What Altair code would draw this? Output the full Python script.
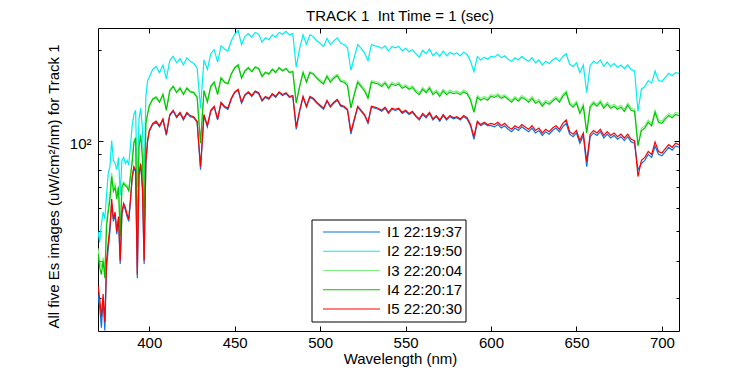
import altair as alt
import pandas as pd

# ---------------- data ----------------
wavelength = list(range(370, 400)) + list(range(400, 711, 2))

labels = ["I1 22:19:37", "I2 22:19:50", "I3 22:20:04", "I4 22:20:17", "I5 22:20:30"]
colors = ["#0A72E6", "#00EEEE", "#80F080", "#00C800", "#FF0000"]
title_text = "TRACK 1\u00a0 Int Time = 1 (sec)"

I1 = [31, 28, 24, 30, 23.5, 38, 44, 50, 62, 54, 57, 49, 55, 39, 57, 61, 59, 56, 54, 63, 75, 81, 79, 35, 77, 83, 69, 39, 84, 99,
      107, 113, 115, 111, 117, 104, 121, 125, 119, 123, 117, 123, 120, 119, 115, 80, 121, 111, 125, 129,
      117, 133, 129, 127, 137, 144, 147, 133, 141, 144, 140, 145, 143, 135, 139, 137, 142, 139, 144, 141,
      143, 139, 140, 109, 125, 139, 129, 139, 137, 133, 130, 127, 135, 129, 133, 136, 130, 129, 126, 105,
      117, 129, 125, 121, 114, 129, 128, 127, 125, 128, 123, 127, 126, 127, 123, 125, 122, 124, 120, 117,
      122, 119, 123, 117, 120, 116, 121, 117, 120, 118, 119, 117, 120, 118, 112, 101, 115, 112, 114, 112,
      112, 111, 113, 110, 112, 109, 107, 110, 108, 111, 109, 107, 110, 106, 108, 104, 107, 105, 108, 110,
      107, 111, 114, 105, 103, 106, 98, 104, 82, 103, 106, 104, 107, 102, 105, 102, 104, 101, 103, 100,
      103, 99, 98, 80, 84, 86, 90, 88, 96, 90, 89, 92, 95, 93, 96, 95]

I2 = [50, 46, 53, 58, 55, 66, 78, 82, 100, 86, 84, 80, 88, 66, 86, 88, 84, 86, 83, 96, 112, 122, 126, 70, 118, 128, 110, 74, 140, 158,
      162, 172, 176, 168, 178, 160, 184, 190, 181, 187, 178, 188, 183, 180, 174, 128, 185, 172, 194, 200,
      182, 206, 201, 198, 214, 225, 232, 208, 221, 226, 220, 228, 225, 212, 219, 216, 224, 220, 228, 225,
      230, 224, 226, 175, 202, 224, 208, 224, 221, 214, 210, 205, 218, 208, 214, 219, 210, 208, 203, 171,
      189, 208, 202, 195, 184, 208, 206, 205, 202, 206, 198, 205, 203, 205, 198, 202, 197, 200, 194, 189,
      199, 194, 201, 191, 196, 190, 198, 191, 196, 193, 195, 191, 196, 193, 183, 169, 190, 185, 189, 186,
      190, 189, 193, 188, 191, 186, 183, 188, 185, 190, 186, 183, 188, 181, 185, 178, 183, 180, 185, 188,
      183, 190, 194, 179, 176, 181, 168, 178, 144, 177, 183, 180, 185, 176, 182, 176, 180, 175, 178, 173,
      178, 172, 170, 125, 148, 151, 158, 155, 170, 158, 157, 162, 167, 164, 168, 167]

I3 = [44, 40, 38, 41, 37, 54, 60, 66, 78, 70, 72, 66, 71, 50, 71, 73, 72, 71, 69, 77, 86, 99, 103, 48, 97, 105, 89, 53, 115, 123,
      131, 138, 140, 135, 143, 127, 147, 152, 145, 150, 143, 150, 146, 145, 140, 99, 147, 135, 152, 157,
      143, 162, 157, 155, 167, 175, 179, 162, 171, 175, 170, 176, 174, 164, 169, 167, 173, 169, 175, 171,
      174, 169, 170, 134, 152, 169, 157, 169, 167, 162, 159, 156, 165, 158, 163, 166, 159, 158, 154, 129,
      144, 158, 153, 148, 140, 158, 157, 156, 153, 157, 151, 156, 154, 156, 151, 153, 150, 152, 147, 144,
      150, 146, 151, 144, 147, 142, 148, 144, 147, 145, 146, 144, 147, 145, 138, 125, 141, 138, 140, 138,
      142, 141, 143, 140, 142, 139, 136, 140, 137, 141, 139, 136, 140, 135, 137, 132, 136, 134, 137, 140,
      136, 142, 146, 134, 131, 135, 125, 132, 107, 131, 135, 132, 136, 130, 134, 130, 132, 129, 131, 127,
      133, 128, 127, 97, 110, 112, 117, 114, 126, 117, 116, 120, 123, 121, 124, 123]

I4 = [42, 38, 36, 40, 35, 52, 58, 64, 76, 68, 70, 64, 70, 48, 70, 72, 71, 70, 68, 76, 85, 98, 102, 47, 96, 104, 88, 52, 114, 122,
      130, 137, 139, 134, 142, 126, 146, 151, 144, 149, 142, 149, 145, 144, 139, 98, 146, 134, 151, 156,
      142, 161, 156, 154, 166, 174, 178, 161, 170, 174, 169, 175, 173, 163, 168, 166, 172, 168, 174, 170,
      173, 168, 169, 133, 151, 168, 156, 168, 166, 161, 157, 154, 163, 156, 161, 164, 157, 156, 152, 128,
      142, 156, 151, 146, 138, 156, 155, 154, 151, 155, 149, 154, 152, 154, 149, 151, 148, 150, 145, 142,
      148, 144, 149, 142, 145, 140, 146, 142, 145, 143, 144, 142, 145, 143, 136, 124, 139, 136, 138, 136,
      140, 139, 141, 138, 140, 137, 134, 138, 135, 139, 137, 134, 138, 133, 135, 130, 134, 132, 135, 138,
      134, 140, 144, 132, 129, 133, 123, 130, 106, 129, 133, 130, 134, 128, 132, 128, 130, 127, 129, 125,
      131, 126, 125, 96, 108, 110, 115, 112, 124, 115, 114, 118, 121, 119, 122, 121]

I5 = [33, 30, 26, 31, 25, 40, 46, 52, 64, 55, 58, 50, 56, 40, 58, 62, 60, 57, 55, 64, 76, 82, 80, 36, 78, 84, 70, 40, 85, 100,
      108, 114, 116, 112, 118, 105, 122, 126, 120, 124, 118, 124, 121, 120, 116, 82, 122, 112, 126, 130,
      118, 134, 130, 128, 138, 145, 148, 134, 142, 145, 141, 146, 144, 136, 140, 138, 143, 140, 145, 142,
      144, 140, 141, 111, 126, 140, 130, 140, 138, 134, 131, 128, 136, 130, 134, 137, 131, 130, 127, 107,
      118, 130, 126, 122, 115, 130, 129, 128, 126, 129, 124, 128, 127, 128, 124, 126, 123, 125, 121, 118,
      123, 120, 124, 118, 121, 117, 122, 118, 121, 119, 120, 118, 121, 119, 113, 103, 116, 113, 115, 113,
      114, 113, 115, 112, 114, 111, 109, 112, 110, 113, 111, 109, 112, 108, 110, 106, 109, 107, 110, 112,
      109, 114, 117, 107, 105, 108, 100, 106, 85, 105, 108, 106, 109, 104, 107, 104, 106, 103, 105, 102,
      105, 101, 100, 76, 86, 88, 92, 90, 99, 92, 91, 94, 97, 95, 98, 97]

x_ticks = [400, 450, 500, 550, 600, 650, 700]
y_major = [100]
y_minor = [30, 40, 50, 60, 70, 80, 90, 200]

# ---------------- layout / style ----------------
W, H = 581, 303
FONT = "Liberation Sans"
FS = 15

xs = alt.Scale(domain=[370, 710], nice=False, zero=False)
ys = alt.Scale(type="log", domain=[23.4, 236], nice=False)

common = dict(domain=False, grid=False, tickColor="black", tickWidth=1)

ax_bottom = alt.Axis(orient="bottom", values=x_ticks, offset=-5, tickSize=5, labelPadding=4,
                     labelFont=FONT, labelFontSize=FS, labelColor="black", labelOverlap=False,
                     title="Wavelength (nm)", titleFont=FONT, titleFontSize=FS, titleFontWeight="normal",
                     titleColor="black", titleX=302, titleY=32, titleBaseline="middle", **common)
ax_top = alt.Axis(orient="top", values=x_ticks, offset=-5, tickSize=5, labels=False, title=None, **common)
ax_left = alt.Axis(orient="left", values=y_major, offset=-5, tickSize=5, labelPadding=7, labelOffset=3,
                   labelExpr="'10²'", labelFont=FONT, labelFontSize=FS, labelColor="black",
                   title="All five Es images (uW/cm²/nm) for Track 1", titleFont=FONT, titleFontSize=FS,
                   titleFontWeight="normal", titleColor="black", titleAngle=270,
                   titleX=-50, titleY=158, titleBaseline="middle", **common)
ax_left_minor = alt.Axis(orient="left", values=y_minor, offset=-3, tickSize=3, labels=False, title=None, **common)
ax_right = alt.Axis(orient="right", values=y_major, offset=-5, tickSize=5, labels=False, title=None, **common)
ax_right_minor = alt.Axis(orient="right", values=y_minor, offset=-3, tickSize=3, labels=False, title=None, **common)

layers = []
for i, (vals, col) in enumerate(zip([I1, I2, I3, I4, I5], colors)):
    df = pd.DataFrame({"wl": wavelength, "v": vals})
    if i == 0:
        xenc = alt.X("wl:Q", scale=xs, axis=ax_bottom)
        yenc = alt.Y("v:Q", scale=ys, axis=ax_left)
    else:
        xenc = alt.X("wl:Q", scale=xs, axis=None)
        yenc = alt.Y("v:Q", scale=ys, axis=None)
    layers.append(alt.Chart(df).mark_line(color=col, strokeWidth=1.2, clip=True).encode(x=xenc, y=yenc))

carrier = pd.DataFrame({"wl": [540], "v": [100]})


def carrier_layer(xax, yax):
    xe = alt.X("wl:Q", scale=xs, axis=xax) if xax is not None else alt.X("wl:Q", scale=xs, axis=None)
    return alt.Chart(carrier).mark_point(opacity=0, size=1).encode(
        x=xe, y=alt.Y("v:Q", scale=ys, axis=yax))


layers.append(carrier_layer(ax_top, ax_left_minor))
layers.append(carrier_layer(None, ax_right))
layers.append(carrier_layer(None, ax_right_minor))

# legend (drawn as marks)
leg = pd.DataFrame({"series": labels})
ly = alt.Y("series:N", scale=alt.Scale(type="point", domain=labels, range=[204, 281], padding=0), axis=None)
box = alt.Chart(pd.DataFrame({"k": [0]})).mark_rect(fill="white", stroke="black", strokeWidth=1).encode(
    x=alt.value(214), x2=alt.value(368), y=alt.value(192), y2=alt.value(294))
rules = alt.Chart(leg).mark_rule(strokeWidth=1.2).encode(
    x=alt.value(225), x2=alt.value(282), y=ly,
    color=alt.Color("series:N", scale=alt.Scale(domain=labels, range=colors), legend=None))
texts = alt.Chart(leg).mark_text(align="left", baseline="middle", font=FONT, fontSize=FS, color="black").encode(
    x=alt.value(289), y=ly, text="series:N")

# title as a text mark above the plot
title = alt.Chart(pd.DataFrame({"t": [title_text]})).mark_text(
    align="center", baseline="middle", font=FONT, fontSize=FS, color="black").encode(
    x=alt.value(302), y=alt.value(-12), text="t:N")

layers += [box, rules, texts, title]

chart = alt.layer(*layers).resolve_scale(y="independent").resolve_axis(
    x="independent", y="independent").properties(
    width=W, height=H,
    autosize=alt.AutoSizeParams(type="none"),
    padding={"left": 90, "top": 20, "right": 60, "bottom": 36},
).configure_view(stroke="black", strokeWidth=1)

chart.save("out.html", embed_options={"renderer": "svg", "actions": False})
